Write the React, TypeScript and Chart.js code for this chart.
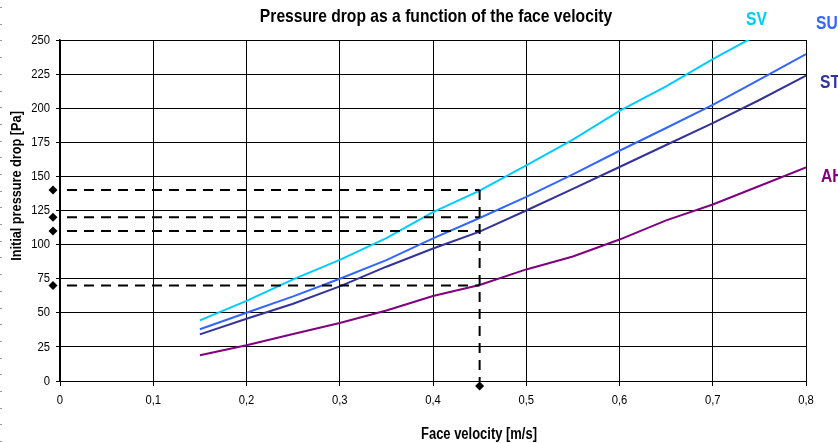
import React, { useEffect, useRef } from 'react';
import { Chart, registerables } from 'chart.js';

Chart.register(...registerables);

// ---- data ----
const velocities = [0.15, 0.2, 0.25, 0.3, 0.35, 0.4, 0.45, 0.5, 0.55, 0.6, 0.65, 0.7, 0.75, 0.8];
const svValues = [44.4, 58.7, 74.5, 88.8, 104.8, 123.8, 139.5, 158, 177, 198, 216, 236, 254.5, null];
const suValues = [37.9, 50, 62, 75, 88.6, 104.5, 119.5, 135, 151.5, 168.8, 185.5, 202.4, 221, 239.7];
const stValues = [34.2, 45.6, 56.6, 69.4, 83.8, 97.1, 109.5, 125, 140.8, 156.9, 173, 189, 206, 223.8];
const ahValues = [18.9, 26.2, 34.5, 42.5, 51.7, 62.3, 70.4, 81.8, 91.3, 103.7, 117.8, 129.4, 143, 156.6];
const seriesNames = ['SV', 'SU', 'ST', 'AH'];
const seriesValues = [svValues, suValues, stValues, ahValues];

const readVelocity = 0.45;
const readPressures = [140, 120, 110, 70];

const chartTitle = 'Pressure drop as a function of the face velocity';
const xTitle = 'Face velocity [m/s]';
const yTitle = 'Initial pressure drop [Pa]';
const xMin = 0, xMax = 0.8, xStep = 0.1;
const yMin = 0, yMax = 250, yStep = 25;

// ---- styles ----
const seriesColors = ['#00CCFF', '#3366FF', '#333399', '#800080'];
const labelPositions: [number, number][] = [[746, 20], [816, 24], [820, 83], [821, 177]];
const FONT = "'Liberation Sans', Arial, sans-serif";
const NARROW = 0.82; // horizontal squeeze to imitate a narrow face
const markerAxisOffset = -0.0075; // markers sit just left of the y axis
const markerBelowAxis = -3.7; // marker just below the x axis

const formatX = (v: number) => {
  const r = Math.round(v * 10) / 10;
  return r === 0 ? '0' : r.toFixed(1).replace('.', ',');
};

function drawText(
  ctx: CanvasRenderingContext2D, text: string, x: number, y: number,
  size: number, bold: boolean, sx: number, align: CanvasTextAlign, color: string, rot = 0,
) {
  ctx.save();
  ctx.translate(x, y);
  if (rot) ctx.rotate(rot);
  ctx.scale(sx, 1);
  ctx.font = `${bold ? 'bold ' : ''}${size}px ${FONT}`;
  ctx.textAlign = align;
  ctx.textBaseline = 'middle';
  ctx.fillStyle = color;
  ctx.fillText(text, 0, 0);
  ctx.restore();
}

const textPlugin = {
  id: 'customTexts',
  afterDraw(chart: any) {
    const { ctx, chartArea, scales } = chart;
    ctx.save();
    // dotted frame marks on the far left
    ctx.fillStyle = '#999';
    for (let y = 7; y < 443; y += 16.7) ctx.fillRect(0, Math.round(y), 2, 1);
    ctx.restore();

    // tick labels (narrow face) placed through the chart's scales
    scales.x.ticks.forEach((t: any) => {
      drawText(ctx, formatX(t.value), scales.x.getPixelForValue(t.value), chartArea.bottom + 19, 13.4, false, 0.84, 'center', '#000');
    });
    scales.y.ticks.forEach((t: any) => {
      drawText(ctx, String(t.value), chartArea.left - 10, scales.y.getPixelForValue(t.value), 13.4, false, 0.84, 'right', '#000');
    });

    drawText(ctx, chartTitle, 436, 17, 17.7, true, 0.885, 'center', '#000');
    drawText(ctx, xTitle, 479, 435, 15.8, true, NARROW, 'center', '#000');
    drawText(ctx, yTitle, 17, 186, 15.5, true, NARROW, 'center', '#000', -Math.PI / 2);

    seriesNames.forEach((name, i) => {
      drawText(ctx, name, labelPositions[i][0], labelPositions[i][1], 19, true, NARROW, 'left', seriesColors[i]);
    });
  },
};

export default function App() {
  const ref = useRef<HTMLCanvasElement>(null);

  useEffect(() => {
    const canvas = ref.current!;
    const seriesSets = seriesNames.map((name, i) => ({
      label: name,
      data: velocities.map((v, j) => ({ x: v, y: seriesValues[i][j] })),
      borderColor: seriesColors[i],
      backgroundColor: seriesColors[i],
      borderWidth: 2,
      pointRadius: 0,
      showLine: true,
      tension: 0,
      order: 2,
    }));
    const dashStyle = {
      borderColor: '#000',
      backgroundColor: '#000',
      borderWidth: 2,
      borderDash: [10, 7],
      pointRadius: 0,
      showLine: true,
      order: 1,
    };
    const hDashes = readPressures.map((p) => ({
      ...dashStyle,
      label: `h${p}`,
      borderDashOffset: 10,
      data: [{ x: xMin, y: p }, { x: readVelocity, y: p }],
    }));
    const vDash = {
      ...dashStyle,
      label: 'v',
      data: [{ x: readVelocity, y: Math.max(...readPressures) }, { x: readVelocity, y: yMin }],
    };
    const markers = {
      label: 'markers',
      // bottom marker first so the (unsorted) points are all drawn
      data: [
        { x: readVelocity, y: markerBelowAxis },
        ...readPressures.map((p) => ({ x: markerAxisOffset, y: p })),
      ],
      pointStyle: 'rectRot',
      pointRadius: 4.5,
      pointBorderWidth: 3.5,
      backgroundColor: '#000',
      borderColor: 'rgba(0,0,0,0)',
      showLine: false,
      clip: false,
      order: 0,
    };

    const chart = new Chart(canvas, {
      type: 'scatter',
      data: { datasets: [...seriesSets, ...hDashes, vDash, markers] as any },
      plugins: [textPlugin],
      options: {
        animation: false,
        responsive: false,
        devicePixelRatio: 1,
        layout: { padding: { top: 40, right: 32, bottom: 0, left: 0 } },
        plugins: { legend: { display: false }, tooltip: { enabled: false }, title: { display: false } },
        scales: {
          x: {
            type: 'linear',
            min: xMin,
            max: xMax,
            afterFit: (s: any) => { s.height = 62; },
            ticks: { stepSize: xStep, display: false },
            grid: { color: '#000', lineWidth: 1, tickLength: 5, drawTicks: true },
            border: { color: '#000', width: 1 },
            title: { display: false },
          },
          y: {
            type: 'linear',
            min: yMin,
            max: yMax,
            afterFit: (s: any) => { s.width = 60; },
            ticks: { stepSize: yStep, display: false },
            grid: { color: '#000', lineWidth: 1, tickLength: 4, drawTicks: true },
            border: { color: '#000', width: 1.5 },
            title: { display: false },
          },
        },
      } as any,
    });
    return () => chart.destroy();
  }, []);

  return (
    <div style={{ position: 'absolute', left: 0, top: 0, width: 838, height: 443, background: '#fff' }}>
      <canvas ref={ref} width={838} height={443} style={{ display: 'block', width: 838, height: 443 }} />
    </div>
  );
}
